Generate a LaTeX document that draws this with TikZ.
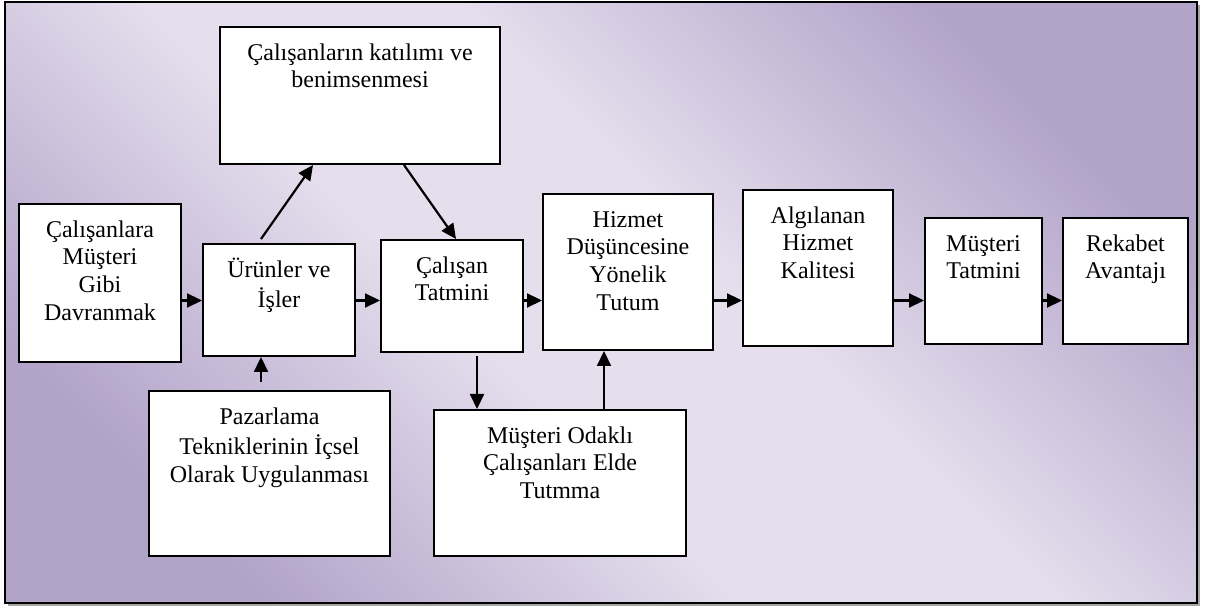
\documentclass[tikz,border=0pt]{standalone}
\usepackage{fontspec}
\setmainfont{Liberation Serif}
\usetikzlibrary{arrows.meta}
\definecolor{bgdark}{RGB}{178,163,201}
\definecolor{bglight}{RGB}{229,223,237}
\pgfdeclareverticalshading{diagbg}{100bp}{color(0bp)=(bgdark); color(25bp)=(bgdark); color(44bp)=(bglight); color(56bp)=(bglight); color(75bp)=(bgdark); color(100bp)=(bgdark)}
\newcommand{\celltext}[3]{\parbox[c][#2][t]{#1}{\centering\strut #3}}
\tikzset{
     frame/.style = { line width=1.3pt, draw=black, shading=diagbg, shading angle=-45 },
  shadowbg/.style = { fill=black!35, draw=none },
       box/.style = { draw, line width=1pt, fill=white, inner xsep=0pt, inner ysep=7pt, anchor=north west, font=\fontsize{12}{13.8}\selectfont },
     arrow/.style = { line width=1.1pt, -{Triangle[length=7.5pt,width=7pt]} },
}
\begin{document}
\begin{tikzpicture}[x=0.5pt, y=-0.5pt]
  \useasboundingbox (0,0) rectangle (1211,608);
  \fill[shadowbg] (8,5) rectangle (1200,606);
  \shade[frame] (5,2) rectangle (1197,603);
  \draw[line width=1.3pt] (5,2) rectangle (1197,603);

  \node[box] (A) at (18,203)  {\celltext{81pt}{65pt}{Çalışanlara\\Müşteri\\Gibi\\Davranmak}};
  \node[box] (B) at (202,243) {\celltext{76pt}{42pt}{Ürünler ve\\İşler}};
  \node[box] (T) at (219,26)  {\celltext{140pt}{54.5pt}{Çalışanların katılımı ve\\benimsenmesi}};
  \node[box] (C) at (380,239) {\celltext{71pt}{42pt}{Çalışan\\Tatmini}};
  \node[box] (D) at (542,193) {\celltext{85pt}{64pt}{Hizmet\\Düşüncesine\\Yönelik\\Tutum}};
  \node[box] (E) at (742,189) {\celltext{75pt}{64pt}{Algılanan\\Hizmet\\Kalitesi}};
  \node[box] (F) at (924,217) {\celltext{58.5pt}{49pt}{Müşteri\\Tatmini}};
  \node[box] (G) at (1062,217) {\celltext{62.5pt}{49pt}{Rekabet\\Avantajı}};
  \node[box] (P) at (148,390) {\celltext{120.5pt}{68.5pt}{Pazarlama\\Tekniklerinin İçsel\\Olarak Uygulanması}};
  \node[box] (M) at (433,409) {\celltext{126pt}{59pt}{Müşteri Odaklı\\Çalışanları Elde\\Tutmma}};

  \coordinate (row) at (0,300.5);
  \foreach \i/\j in {A/B,B/C,C/D,D/E,E/F,F/G} {
    \draw [arrow] (\i.east |- row) -- (\j.west |- row);
  }
  \draw [arrow] ([xshift=-9pt,yshift=2pt]B.north) -- ([xshift=-23.5pt]T.south);
  \draw [arrow] ([xshift=22pt]T.south) -- ([xshift=2pt]C.north);
  \draw [arrow] ([xshift=-4.25pt,yshift=4pt]P.north) -- ([xshift=-4.25pt]P.north |- B.south);
  \draw [arrow] ([xshift=12.5pt,yshift=-1.5pt]C.south) -- ([xshift=12.5pt]C.south |- M.north);
  \draw [arrow] ([xshift=22pt]M.north) -- ([xshift=22pt]M.north |- D.south);
\end{tikzpicture}
\end{document}
